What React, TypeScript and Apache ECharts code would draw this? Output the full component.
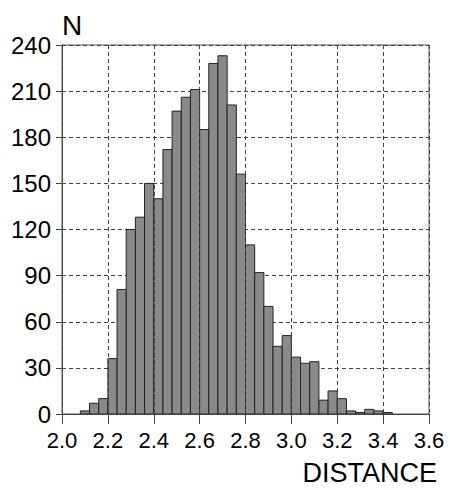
import React, { useEffect, useRef } from "react";
import * as echarts from "echarts";

const BIN_WIDTH = 0.04;
const binStarts = [
  2.0, 2.04, 2.08, 2.12, 2.16, 2.2, 2.24, 2.28, 2.32, 2.36, 2.4, 2.44, 2.48, 2.52, 2.56,
  2.6, 2.64, 2.68, 2.72, 2.76, 2.8, 2.84, 2.88, 2.92, 2.96, 3.0, 3.04, 3.08, 3.12, 3.16,
  3.2, 3.24, 3.28, 3.32, 3.36, 3.4, 3.44, 3.48, 3.52, 3.56,
];
const counts = [
  0, 0, 2, 7, 10, 36, 81, 120, 128, 150, 140, 172, 197, 206, 211,
  185, 228, 233, 201, 156, 110, 92, 70, 44, 51, 37, 33, 34, 9, 15,
  10, 2, 1, 3, 2, 1, 0, 0, 0, 0,
];
const xTicks = ["2.0", "2.2", "2.4", "2.6", "2.8", "3.0", "3.2", "3.4", "3.6"];
const yTicks = [0, 30, 60, 90, 120, 150, 180, 210, 240];
const xAxisTitle = "DISTANCE";
const yAxisTitle = "N";

const FONT = "'Liberation Sans', Arial, Helvetica, sans-serif";

export default function App() {
  const ref = useRef<HTMLDivElement>(null);
  useEffect(() => {
    document.body.style.margin = "0";
    if (!ref.current) return;
    const chart = echarts.init(ref.current, null, { renderer: "svg" });
    const data = binStarts.map((b, i) => [b, counts[i]]);
    chart.setOption({
      animation: false,
      backgroundColor: "#ffffff",
      grid: {
        left: 62,
        top: 45,
        width: 367,
        height: 369,
        containLabel: false,
        outerBoundsMode: "none",
        show: true,
        borderColor: "#555",
        borderWidth: 1,
        backgroundColor: "transparent",
      },
      graphic: [
        {
          type: "text",
          x: 437,
          y: 473,
          style: {
            text: xAxisTitle,
            fontFamily: FONT,
            fontSize: 27,
            fill: "#000",
            align: "right",
            verticalAlign: "middle",
          },
        },
      ],
      xAxis: {
        type: "value",
        min: Number(xTicks[0]),
        max: Number(xTicks[xTicks.length - 1]),
        interval: 0.2,
        z: 3,
        axisLine: { show: true, lineStyle: { color: "#444", width: 1 } },
        axisTick: { show: true, length: 10, lineStyle: { color: "#444" } },
        axisLabel: {
          fontFamily: FONT,
          fontSize: 22,
          color: "#000",
          margin: 15,
          formatter: (v: number) => v.toFixed(1),
        },
        splitLine: {
          show: true,
          lineStyle: { color: "#444", type: [4, 3], width: 1 },
        },
      },
      yAxis: {
        type: "value",
        min: yTicks[0],
        max: yTicks[yTicks.length - 1],
        interval: 30,
        name: yAxisTitle,
        nameLocation: "end",
        nameGap: 6,
        nameTextStyle: {
          fontFamily: FONT,
          fontSize: 28,
          color: "#000",
          align: "left",
        },
        axisLine: { show: true, lineStyle: { color: "#555", width: 1 } },
        axisTick: { show: true, length: 6, lineStyle: { color: "#444" } },
        axisLabel: {
          fontFamily: FONT,
          fontSize: 24,
          color: "#000",
          margin: 11,
        },
        splitLine: {
          show: true,
          lineStyle: { color: "#444", type: [4, 3], width: 1 },
        },
      },
      series: [
        {
          type: "custom",
          z: 2,
          encode: { x: 0, y: 1 },
          data,
          renderItem: (params: any, api: any) => {
            const x0 = api.value(0);
            const v = api.value(1);
            if (!v) return null;
            const p0 = api.coord([x0, 0]);
            const p1 = api.coord([x0 + BIN_WIDTH, v]);
            return {
              type: "rect",
              shape: {
                x: p0[0],
                y: p1[1],
                width: p1[0] - p0[0],
                height: p0[1] - p1[1],
              },
              style: { fill: "#8a8a8a", stroke: "#222", lineWidth: 1 },
            };
          },
        },
      ],
    });
    return () => chart.dispose();
  }, []);
  return <div ref={ref} style={{ width: 450, height: 490 }} />;
}
